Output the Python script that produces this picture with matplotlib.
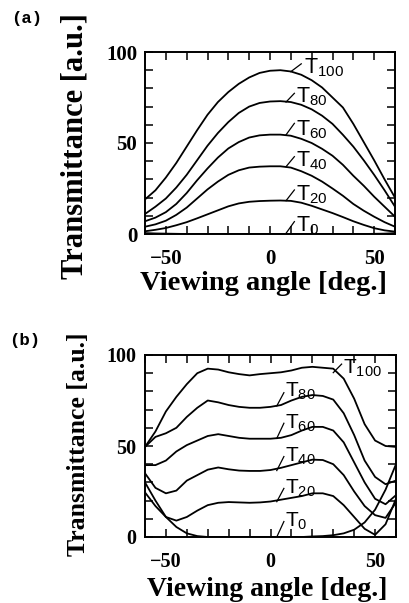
import matplotlib
matplotlib.use("Agg")
import matplotlib.pyplot as plt
from matplotlib.ticker import MultipleLocator, FixedLocator

plt.rcParams['mathtext.default'] = 'regular'
plt.rcParams['font.family'] = ['Liberation Sans', 'DejaVu Sans']

# ---------------- data ----------------
angle = [-60, -55, -50, -45, -40, -35, -30, -25, -20, -15, -10, -5, 0,
         5, 10, 15, 20, 25, 30, 35, 40, 45, 50, 55, 60]

# panel (a)
a_T100 = [19, 24, 31, 39, 48, 57, 65.5, 72.5, 78, 82.5, 86, 88.5, 89.7, 90, 89.3,
          87.5, 84.5, 80.5, 75, 69.5, 60.5, 50.5, 40.5, 30, 20]
a_T80 = [11, 15, 19.5, 25.5, 32.5, 40.5, 48.5, 55.5, 61.5, 66.5, 70, 72, 72.8, 73,
         72.5, 71, 68.5, 65, 60.5, 54.5, 48, 40.5, 32.5, 24, 15]
a_T60 = [7, 9, 12, 16.5, 22.5, 29.5, 36, 42, 47, 50.5, 53, 54.2, 54.6, 54.6, 54,
         52.3, 50, 46.8, 43, 38, 32, 26.5, 20.5, 15, 9.5]
a_T40 = [4, 5.3, 7.3, 10.5, 14.5, 19.5, 24.5, 28.8, 32.5, 35, 36.5, 37, 37.2, 37.2,
         36.5, 34.5, 32, 28.8, 25, 21, 16.5, 12.8, 9.5, 6.5, 4]
a_T20 = [1.5, 2.3, 3.3, 4.8, 6.5, 8.6, 10.8, 13, 15.2, 16.8, 17.7, 18.1, 18.3, 18.4,
         18.2, 17.2, 15.5, 13.5, 11.5, 9.3, 7, 5, 3.2, 2, 1.3]
a_T0 = [0.5, 0.3, 0.2, 0.1, 0, 0, 0, 0, 0, 0, 0, 0, 0, 0, 0, 0, 0, 0, 0, 0, 0,
        0, 0.1, 0.2, 0.5]

# panel (b)
b_T100 = [49.5, 58, 69, 77, 84, 90, 92.5, 92, 90.5, 89.5, 88.8, 89.5, 90, 90.5,
          91.5, 93, 93.5, 93, 92.5, 87, 76, 62, 53, 50, 49.5]
b_T80 = [49.5, 55, 57, 60, 66, 71, 75, 74, 72.5, 71.5, 71, 71, 71.5, 72.5, 75,
         77, 78, 77.5, 75.5, 68, 56, 42, 33, 29, 31]
b_T60 = [39.5, 39.5, 42, 47, 50.5, 53, 55.5, 56.5, 55.5, 54.5, 54, 54, 54, 54.5,
         56, 58.5, 60.5, 60.5, 58.5, 52, 41, 30, 21, 18, 23]
b_T40 = [35, 27, 24, 25.5, 31, 34, 37, 38.2, 37.2, 36.5, 36.3, 36.3, 36.8, 38,
         39.5, 41, 42.5, 42.3, 40, 34, 25, 17, 12, 10.5, 19]
b_T20 = [24.5, 17, 11, 9, 11, 14.5, 17.5, 18.8, 19.2, 19, 18.8, 19, 19.5, 20.5,
         21.5, 22.5, 24, 24, 22.5, 17.5, 11, 4.5, 1.2, 7, 21]
b_T0 = [30, 20, 11, 5.5, 2, 0.5, 0, 0, 0, 0, 0, 0, 0, 0, 0, 0, 0.3, 0.5, 1, 2,
        4, 8, 15, 26, 40]

series_names = ['100', '80', '60', '40', '20', '0']
x_major = [-50, 0, 50]
y_major = [0, 50, 100]
x_labels = ['\u221250', '0', '50']
y_labels = ['0', '50', '100']

# label anchor positions (curve point, leader end, text start/baseline)
a_lead_start = [(10, 89.2), (7.7, 72.5), (7.7, 54.5), (7.7, 37), (7.7, 18.3), (7.7, 0.4)]
a_lead_end = [(15, 93.5), (11.7, 77.3), (11.7, 60.8), (11.7, 42.5), (11.7, 24.2), (11.7, 6.8)]
a_text_pos = [(16.4, 88), (12.6, 72.5), (12.6, 54.4), (12.6, 37), (12.6, 18.3), (12.6, 1.3)]

b_lead_start = [(30, 90.3), (3, 72), (3, 54.2), (3, 36.5), (3, 19.4), (3, 0)]
b_lead_end = [(34, 95), (6.4, 79.3), (6.4, 62.5), (6.4, 44.2), (6.4, 26.7), (6.4, 8.5)]
b_text_pos = [(34.8, 89.6), (6.9, 77), (6.9, 59.7), (6.9, 41.4), (6.9, 24), (6.9, 5.7)]

# ---------------- figure ----------------
fig = plt.figure(figsize=(4.09, 6.03), dpi=100)
W, H = 409, 603


def make_axes(left, top, right, bottom):
    return fig.add_axes([left / W, 1 - bottom / H, (right - left) / W, (bottom - top) / H])


serif = ['Liberation Serif', 'DejaVu Serif']


def style(ax, tsize, xpad, ypad):
    ax.set_xlim(-60, 60)
    ax.set_ylim(0, 100)
    ax.xaxis.set_major_locator(FixedLocator(x_major))
    ax.yaxis.set_major_locator(FixedLocator(y_major))
    ax.xaxis.set_minor_locator(MultipleLocator(10))
    ax.yaxis.set_minor_locator(MultipleLocator(10))
    ax.set_xticklabels(x_labels, fontfamily=serif, fontweight='bold', fontsize=tsize)
    ax.set_yticklabels(y_labels, fontfamily=serif, fontweight='bold', fontsize=tsize)
    ax.tick_params(which='both', direction='in', top=True, right=True,
                   length=5.5, width=1.1, color='black')
    ax.tick_params(axis='x', which='major', pad=xpad)
    ax.tick_params(axis='y', which='major', pad=ypad)
    for s in ax.spines.values():
        s.set_linewidth(1.4)


def draw(ax, series, lead_s, lead_e, tpos, fs):
    for ys in series:
        ax.plot(angle, ys, color='black', lw=1.3, solid_joinstyle='round')
    for name, s, e, t in zip(series_names, lead_s, lead_e, tpos):
        ax.plot([s[0], e[0]], [s[1], e[1]], color='black', lw=0.9)
        ax.text(t[0], t[1], r'$\mathregular{T_{%s}}$' % name, fontsize=fs,
                ha='left', va='baseline', fontfamily=['Liberation Sans', 'DejaVu Sans'])


# panel (a)
axA = make_axes(145, 52, 395, 234)
style(axA, 15, 10.5, 5.5)
draw(axA, [a_T100, a_T80, a_T60, a_T40, a_T20, a_T0], a_lead_start, a_lead_end,
     a_text_pos, 15.5)

# panel (b)
axB = make_axes(145, 355, 396, 537)
style(axB, 14.5, 10.5, 6.5)
draw(axB, [b_T100, b_T80, b_T60, b_T40, b_T20, b_T0], b_lead_start, b_lead_end,
     b_text_pos, 15)

# axis titles
fig.text(75 / W, 1 - 146.5 / H, 'Transmittance [a.u.]', rotation=90, ha='center',
         va='center', fontfamily=serif, fontweight='bold', fontsize=22)
fig.text(264 / W, 1 - 283 / H, 'Viewing angle [deg.]', ha='center', va='center',
         fontfamily=serif, fontweight='bold', fontsize=20.5)
fig.text(78 / W, 1 - 444.5 / H, 'Transmittance [a.u.]', rotation=90, ha='center',
         va='center', fontfamily=serif, fontweight='bold', fontsize=18.5)
fig.text(267.5 / W, 1 - 590 / H, 'Viewing angle [deg.]', ha='center', va='center',
         fontfamily=serif, fontweight='bold', fontsize=20)

# panel letters
mono = ['Liberation Mono', 'DejaVu Sans Mono']
fig.text(27 / W, 1 - 19 / H, '(a)', ha='center', va='center', fontfamily=mono,
         fontweight='bold', fontsize=12.5)
fig.text(25 / W, 1 - 341 / H, '(b)', ha='center', va='center', fontfamily=mono,
         fontweight='bold', fontsize=12.5)

fig.savefig('out.png', dpi=100)
